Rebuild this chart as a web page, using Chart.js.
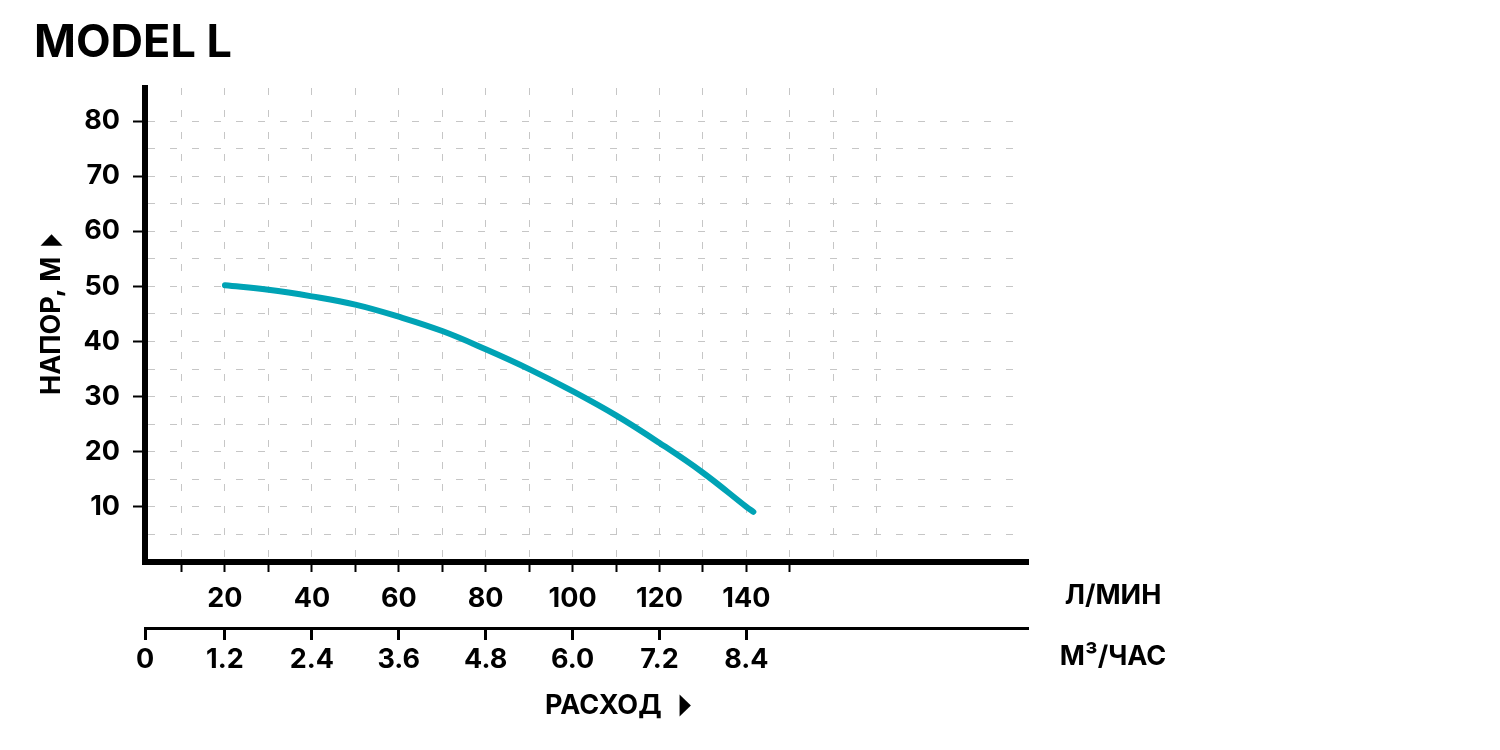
<!DOCTYPE html>
<html lang="ru">
<head>
<meta charset="utf-8">
<title>MODEL L</title>
<script src="https://cdn.jsdelivr.net/npm/chart.js@4.4.1/dist/chart.umd.min.js"></script>
<style>
  html, body { margin: 0; padding: 0; background: #fff; }
  #wrap { width: 1500px; height: 750px; }
</style>
</head>
<body>
<div id="wrap"><canvas id="grafica" width="1500" height="750"></canvas></div>
<script>
// curva: caudal (л/мин) contra altura (м)
const flowLpm = [20, 30, 40, 50, 60, 70, 80, 90, 100, 110, 120, 130, 140, 141.6];
const headM = [50.2, 49.4, 48.2, 46.7, 44.5, 41.9, 38.6, 35.0, 31.0, 26.6, 21.6, 16.2, 10.0, 9.1];

// marcas de los ejes
const lpmGrid = [10, 20, 30, 40, 50, 60, 70, 80, 90, 100, 110, 120, 130, 140, 150, 160, 170];
const lpmLabels = [20, 40, 60, 80, 100, 120, 140];
const m3hLabels = [0, 1.2, 2.4, 3.6, 4.8, 6.0, 7.2, 8.4];
const headGrid = [5, 10, 15, 20, 25, 30, 35, 40, 45, 50, 55, 60, 65, 70, 75, 80];
const headLabels = [10, 20, 30, 40, 50, 60, 70, 80];

const LPM_MIN = 1.6, LPM_MAX = 204.8;
const familia = 'Inter, "DejaVu Sans", sans-serif';
const fuenteEje = { family: familia, size: 27, weight: '700', lineHeight: 1.2 };
const sinColor = 'rgba(0,0,0,0)';

// triangulito negro detrás de los títulos de eje
function flecha(ctx, x, y) {
    ctx.save();
    ctx.translate(x, y);
    ctx.scale(0.62, 1.2);
    ctx.font = '24px "DejaVu Sans", sans-serif';
    ctx.textAlign = 'left';
    ctx.textBaseline = 'middle';
    ctx.fillText('▶', 0, 0);
    ctx.restore();
}

// textos sueltos: unidades y títulos de los ejes
const textos = {
    id: 'textos',
    afterDraw(chart) {
        const { ctx, chartArea: a } = chart;
        ctx.save();
        ctx.fillStyle = '#000';
        ctx.font = '700 27px ' + familia;
        ctx.textAlign = 'center';
        ctx.textBaseline = 'middle';
        ctx.fillText('Л/МИН', a.right + 85, a.bottom + 34);
        ctx.fillText('М³/ЧАС', a.right + 85, a.bottom + 95);

        ctx.textAlign = 'left';
        const t1 = 'РАСХОД';
        ctx.fillText(t1, a.left + 400, a.bottom + 144);
        flecha(ctx, a.left + 400 + ctx.measureText(t1).width + 18, a.bottom + 144);

        ctx.translate(52, a.bottom - 167);
        ctx.rotate(-Math.PI / 2);
        const t2 = 'НАПОР, М';
        ctx.fillText(t2, 0, 0);
        flecha(ctx, ctx.measureText(t2).width + 11, 0);
        ctx.restore();
    }
};

const ctx = document.getElementById('grafica').getContext('2d');
new Chart(ctx, {
    type: 'line',
    data: {
        datasets: [{
            data: flowLpm.map((x, i) => ({ x: x, y: headM[i] })),
            borderColor: '#00a3b5',
            borderWidth: 6,
            borderCapStyle: 'round',
            borderJoinStyle: 'round',
            pointRadius: 0,
            tension: 0.4,
            fill: false,
            xAxisID: 'x',
            yAxisID: 'y'
        }]
    },
    options: {
        responsive: false,
        animation: false,
        layout: { padding: { left: 34, right: 472, top: 0, bottom: 0 } },
        plugins: {
            legend: { display: false },
            tooltip: { enabled: false },
            title: {
                display: true,
                text: 'MODEL L',
                align: 'start',
                color: '#000',
                font: { family: familia, size: 45, weight: '700', lineHeight: 1.2 },
                padding: { top: 16, bottom: 18 }
            }
        },
        scales: {
            x: {
                type: 'linear',
                position: 'bottom',
                min: LPM_MIN,
                max: LPM_MAX,
                afterBuildTicks: s => { s.ticks = lpmGrid.map(v => ({ value: v })); },
                afterFit: s => { s.height = 66; },
                grid: {
                    color: '#c6c6c6',
                    lineWidth: 1,
                    tickColor: c => (c.tick && c.tick.value <= 150) ? '#000' : sinColor,
                    tickLength: 10,
                    tickWidth: 2
                },
                border: { color: '#000', width: 6, dash: [7, 15] },
                ticks: {
                    color: '#000',
                    font: fuenteEje,
                    padding: 11,
                    maxRotation: 0,
                    autoSkip: false,
                    callback: v => lpmLabels.includes(v) ? String(v) : ''
                }
            },
            x2: {
                type: 'linear',
                position: 'bottom',
                min: LPM_MIN * 0.06,
                max: LPM_MAX * 0.06,
                afterBuildTicks: s => { s.ticks = m3hLabels.map(v => ({ value: Math.max(v, s.min) })); },
                afterFit: s => { s.height = 122; },
                grid: { drawOnChartArea: false, drawTicks: true, tickColor: '#000', tickLength: 12, tickWidth: 3 },
                border: { color: '#000', width: 3 },
                ticks: {
                    color: '#000',
                    font: fuenteEje,
                    padding: 4,
                    maxRotation: 0,
                    autoSkip: false,
                    callback: (v, i) => i === 0 ? '0' : m3hLabels[i].toFixed(1)
                }
            },
            y: {
                type: 'linear',
                position: 'left',
                min: 0,
                max: 86,
                afterBuildTicks: s => { s.ticks = headGrid.map(v => ({ value: v })); },
                afterFit: s => { s.width = 111; },
                grid: {
                    color: '#c6c6c6',
                    lineWidth: 1,
                    tickColor: c => (c.tick && headLabels.includes(c.tick.value)) ? '#000' : sinColor,
                    tickLength: 12,
                    tickWidth: 2
                },
                border: { color: '#000', width: 6, dash: [7, 15] },
                ticks: {
                    color: '#000',
                    font: fuenteEje,
                    padding: 13,
                    autoSkip: false,
                    callback: v => headLabels.includes(v) ? String(v) : ''
                }
            }
        }
    },
    plugins: [textos]
});
</script>
</body>
</html>
